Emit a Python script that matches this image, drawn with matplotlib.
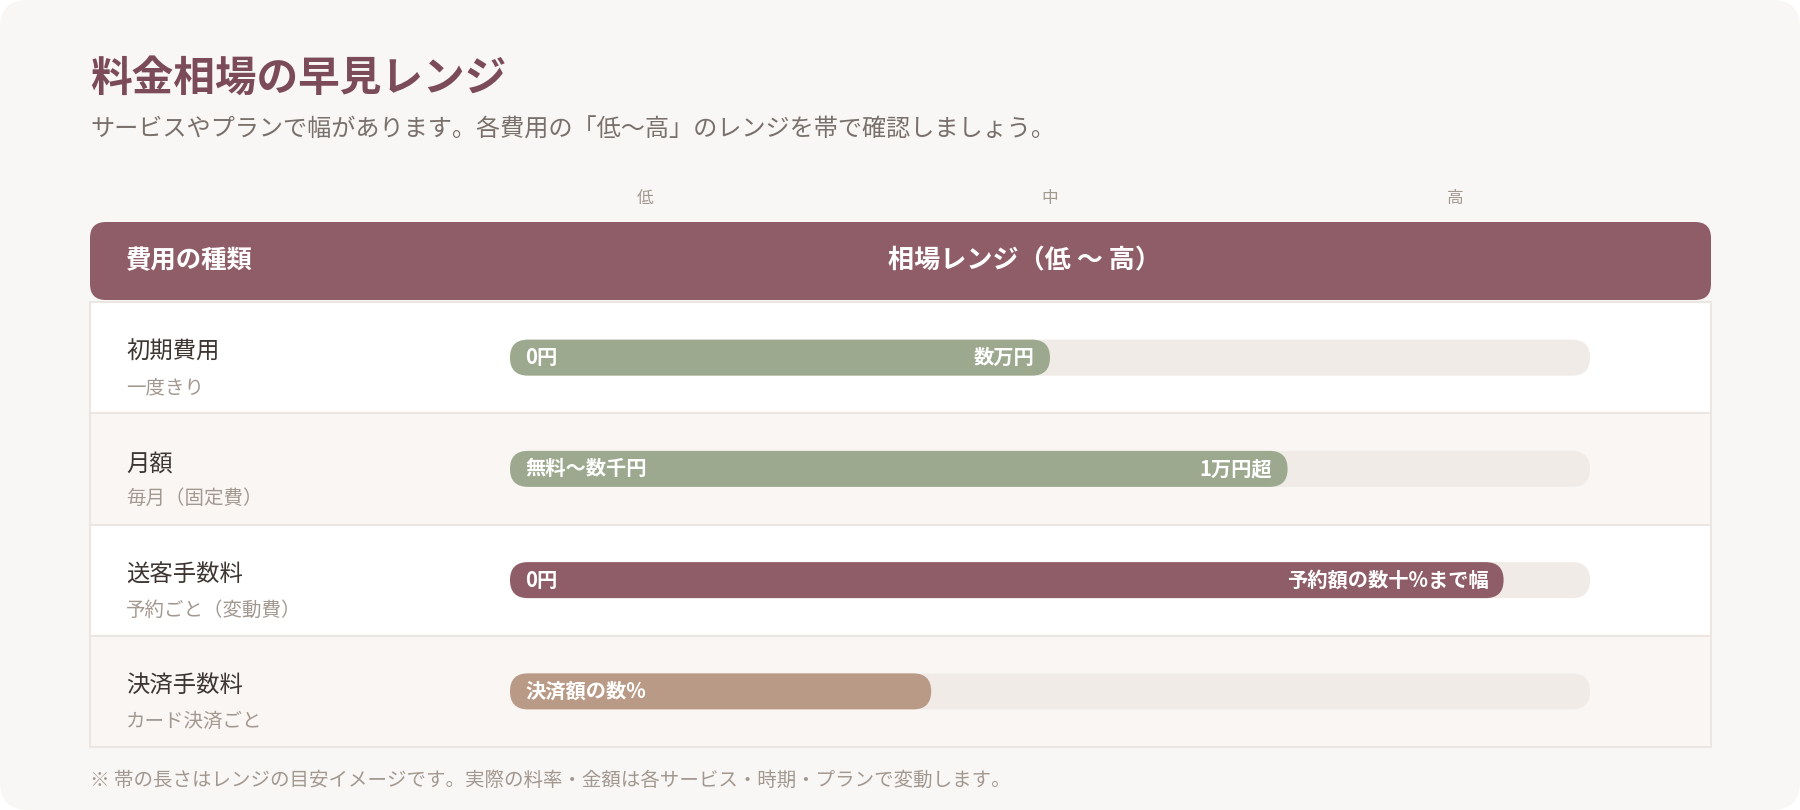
import matplotlib

matplotlib.use("Agg")
import matplotlib.pyplot as plt
from matplotlib.patches import FancyBboxPatch, Rectangle
from matplotlib.transforms import blended_transform_factory

plt.rcParams["font.family"] = ["Noto Sans CJK JP", "DejaVu Sans"]

# --- content -------------------------------------------------------------
TITLE = "料金相場の早見レンジ"
SUBTITLE = "サービスやプランで幅があります。各費用の「低〜高」のレンジを帯で確認しましょう。"
FOOTNOTE = "※ 帯の長さはレンジの目安イメージです。実際の料率・金額は各サービス・時期・プランで変動します。"
HEADER_LEFT = "費用の種類"
HEADER_RIGHT = "相場レンジ（低 〜 高）"

SCALE_LABELS = ["低", "中", "高"]
SCALE_POS = [0.125, 0.5, 0.875]

CATEGORIES = ["初期費用", "月額", "送客手数料", "決済手数料"]
SUBLABELS = ["一度きり", "毎月（固定費）", "予約ごと（変動費）", "カード決済ごと"]
BAND_WIDTH = [0.50, 0.72, 0.92, 0.39]
LOW_LABELS = ["0円", "無料〜数千円", "0円", "決済額の数%"]
HIGH_LABELS = ["数万円", "1万円超", "予約額の数十%まで幅", ""]
BAND_COLORS = ["#9ca98e", "#9ca98e", "#8f5d68", "#b89a86"]

# --- layout (pixels) -----------------------------------------------------
W, H = 1800, 810
TABLE_X0, TABLE_X1 = 90, 1711
TABLE_Y0, ROW_H = 302, 111.25
TRACK_X0, TRACK_W = 510, 1080
BAR_H = 36

CARD_BG = "#f8f7f5"
ACCENT = "#8f5d68"
TRACK = "#f0ebe7"
LINE = "#ece6e2"
MUTED = "#a39890"


def main() -> None:
    fig = plt.figure(figsize=(18, 8.1), dpi=100)
    fig.patch.set_facecolor("white")

    bg = fig.add_axes([0, 0, 1, 1])
    bg.set_xlim(0, W)
    bg.set_ylim(H, 0)
    bg.axis("off")

    bg.add_patch(FancyBboxPatch((0, 0), W, H, boxstyle="round,pad=0,rounding_size=28",
                                fc=CARD_BG, ec="none"))

    bg.text(90, 79, TITLE, fontsize=30, fontweight="bold", color="#7b4b5a", va="center")
    bg.text(90, 130, SUBTITLE, fontsize=17.4, color="#7a706b", va="center")

    # header
    bg.add_patch(FancyBboxPatch((TABLE_X0, 222), TABLE_X1 - TABLE_X0, 78,
                                boxstyle="round,pad=0,rounding_size=16", fc=ACCENT, ec="none"))
    bg.text(126, 261, HEADER_LEFT, fontsize=18.3, fontweight="bold", color="white", va="center")
    bg.text(1025, 261, HEADER_RIGHT, fontsize=18.8, fontweight="bold", color="white",
            va="center", ha="center")

    # rows
    n = len(CATEGORIES)
    for i, (cat, sub) in enumerate(zip(CATEGORIES, SUBLABELS)):
        top = TABLE_Y0 + i * ROW_H
        fc = "white" if i % 2 == 0 else "#faf6f3"
        bg.add_patch(Rectangle((TABLE_X0, top), TABLE_X1 - TABLE_X0, ROW_H,
                               fc=fc, ec=LINE, lw=1.5))
        mid = top + ROW_H / 2
        bg.text(126, mid - 5, cat, fontsize=16.8, color="#3d3532", va="center")
        bg.text(126, mid + 30, sub, fontsize=14, color=MUTED, va="center")

    bg.text(90, 780, FOOTNOTE, fontsize=14, color=MUTED, va="center")

    # band axes: x = share of the track, y = row index
    bax = fig.add_axes([TRACK_X0 / W, 1 - (TABLE_Y0 + n * ROW_H) / H,
                        TRACK_W / W, n * ROW_H / H])
    bax.set_xlim(0, 1)
    bax.set_ylim(n - 0.5, -0.5)
    bax.axis("off")
    bax.patch.set_alpha(0)

    aspect = TRACK_W / ROW_H
    h = BAR_H / ROW_H
    r = (BAR_H / 2) / TRACK_W
    style = f"round,pad=0,rounding_size={r}"

    for i, width in enumerate(BAND_WIDTH):
        bax.add_patch(FancyBboxPatch((0, i - h / 2), 1, h, boxstyle=style,
                                     mutation_aspect=aspect, fc=TRACK, ec="none"))
        bax.add_patch(FancyBboxPatch((0, i - h / 2), width, h, boxstyle=style,
                                     mutation_aspect=aspect, fc=BAND_COLORS[i], ec="none"))
        bax.annotate(LOW_LABELS[i], xy=(0, i), xytext=(11, 0), textcoords="offset points",
                     ha="left", va="center", color="white", fontsize=14.6, fontweight="bold")
        if HIGH_LABELS[i]:
            bax.annotate(HIGH_LABELS[i], xy=(width, i), xytext=(-11, 0),
                         textcoords="offset points", ha="right", va="center",
                         color="white", fontsize=14.6, fontweight="bold")

    trans = blended_transform_factory(bax.transData, bg.transData)
    for label, pos in zip(SCALE_LABELS, SCALE_POS):
        bg.text(pos, 199, label, transform=trans, ha="center", va="center",
                fontsize=12, color=MUTED)

    fig.savefig("out.png", dpi=100, facecolor="white")
    plt.close(fig)


if __name__ == "__main__":
    main()
